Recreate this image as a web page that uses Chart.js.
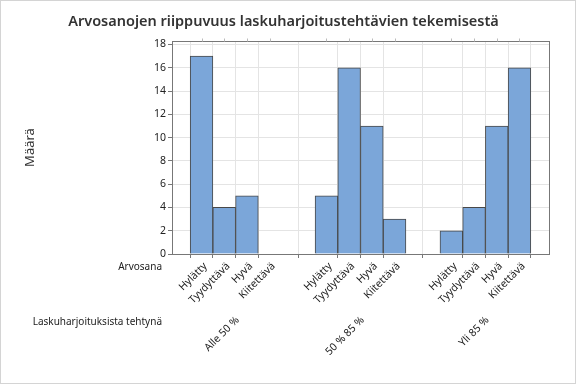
<!DOCTYPE html>
<html>
<head>
<meta charset="utf-8">
<script src="https://cdn.jsdelivr.net/npm/chart.js@4"></script>
<style>
  html, body { margin: 0; padding: 0; background: #fff; }
  canvas { display: block; }
</style>
</head>
<body>
<canvas id="chart" width="576" height="384"></canvas>
<script>
const groups = ['Alle 50 %', '50 % 85 %', 'Yli 85 %'];
const grades = ['Hylätty', 'Tyydyttävä', 'Hyvä', 'Kiitettävä'];
const countsAlle50 = [17, 4, 5, 0];
const counts50to85 = [5, 16, 11, 3];
const countsYli85 = [2, 4, 11, 16];

// where each group starts on the x axis (2.5 bar gap between groups)
const groupStart = [0, 5.5, 11];

const font = "'Noto Sans', 'Open Sans', sans-serif";
const textColor = '#222';
const axisColor = '#777';
const gridColor = '#e4e4e4';

const series = [countsAlle50, counts50to85, countsYli85];
const points = [];
const gradeTicks = [];
const gradeLabels = [];
series.forEach(function (vals, g) {
    vals.forEach(function (v, i) {
        points.push({ x: groupStart[g] + i, y: v });
        gradeTicks.push(groupStart[g] + i);
        gradeLabels.push(grades[i]);
    });
});
const groupTicks = groupStart.map(function (s) { return s + (grades.length - 1) / 2; });

//frame, plot box and the row captions on the left
const extras = {
    id: 'extras',
    beforeDraw: function (chart) {
        const ctx = chart.ctx;
        ctx.save();
        ctx.fillStyle = '#fff';
        ctx.fillRect(0, 0, chart.width, chart.height);
        ctx.restore();
    },
    afterDraw: function (chart) {
        const ctx = chart.ctx, a = chart.chartArea;
        ctx.save();
        ctx.lineWidth = 1;
        ctx.strokeStyle = '#d4d4d4';
        ctx.strokeRect(0.5, 0.5, chart.width - 1, chart.height - 1);
        ctx.strokeStyle = axisColor;
        const l = Math.round(a.left) + 0.5, t = Math.round(a.top) + 0.5;
        ctx.strokeRect(l, t, Math.round(a.right) - Math.round(a.left), Math.round(a.bottom) - Math.round(a.top));
        // little tick marks above the top edge
        ctx.strokeStyle = '#bbb';
        const xs = chart.scales.x;
        gradeTicks.forEach(function (v) {
            const px = Math.round(xs.getPixelForValue(v)) + 0.5;
            ctx.beginPath();
            ctx.moveTo(px, t - 3);
            ctx.lineTo(px, t);
            ctx.stroke();
        });
        ctx.font = '10px ' + font;
        ctx.fillStyle = textColor;
        ctx.textAlign = 'right';
        ctx.textBaseline = 'middle';
        ctx.fillText('Arvosana', a.left - 10, chart.scales.x.top + 13);
        ctx.fillText('Laskuharjoituksista tehtynä', a.left - 10, chart.scales.x2.top + 18);
        ctx.restore();
    }
};

new Chart(document.getElementById('chart'), {
    type: 'bar',
    data: {
        datasets: [{
            data: points,
            backgroundColor: '#7ba6d9',
            borderColor: '#484848',
            borderWidth: 1,
            barPercentage: 1,
            categoryPercentage: 1
        }]
    },
    options: {
        responsive: false,
        animation: false,
        layout: { padding: { left: 18, right: 27, top: 0, bottom: 0 } },
        plugins: {
            legend: { display: false },
            tooltip: { enabled: false },
            title: {
                display: true,
                text: 'Arvosanojen riippuvuus laskuharjoitustehtävien tekemisestä',
                color: '#333',
                font: { family: font, size: 14.5, weight: '600' },
                padding: { top: 13, bottom: 10.6 }
            }
        },
        scales: {
            x: {
                type: 'linear',
                position: 'bottom',
                min: -1.3,
                max: 15.3,
                offset: false,
                afterBuildTicks: function (scale) {
                    scale.ticks = gradeTicks.map(function (v) { return { value: v }; });
                },
                afterFit: function (scale) { scale.height = 50; },
                grid: { color: gridColor, tickColor: axisColor, tickLength: 4 },
                border: { color: axisColor },
                ticks: {
                    autoSkip: false,
                    minRotation: 45,
                    maxRotation: 45,
                    padding: 2,
                    labelOffset: 4,
                    color: textColor,
                    font: { family: font, size: 10.5 },
                    callback: function (v, i) { return gradeLabels[i]; }
                }
            },
            x2: {
                type: 'linear',
                position: 'bottom',
                min: -1.3,
                max: 15.3,
                offset: false,
                afterBuildTicks: function (scale) {
                    scale.ticks = groupTicks.map(function (v) { return { value: v }; });
                },
                afterFit: function (scale) { scale.height = 80; },
                grid: { display: false, drawTicks: false },
                border: { display: false },
                ticks: {
                    autoSkip: false,
                    minRotation: 45,
                    maxRotation: 45,
                    padding: 10,
                    labelOffset: 2,
                    color: textColor,
                    font: { family: font, size: 10.5 },
                    callback: function (v, i) { return groups[i]; }
                }
            },
            y: {
                min: 0,
                max: 18.3,
                afterFit: function (scale) { scale.width = 154; },
                grid: { color: gridColor, tickColor: axisColor, tickLength: 4 },
                border: { color: axisColor },
                ticks: {
                    stepSize: 2,
                    includeBounds: false,
                    padding: 2,
                    color: textColor,
                    font: { family: font, size: 10.5 }
                },
                title: {
                    display: true,
                    text: 'Määrä',
                    color: '#333',
                    font: { family: font, size: 13 },
                    padding: { top: 4, bottom: 0 }
                }
            }
        }
    },
    plugins: [extras]
});
</script>
</body>
</html>
